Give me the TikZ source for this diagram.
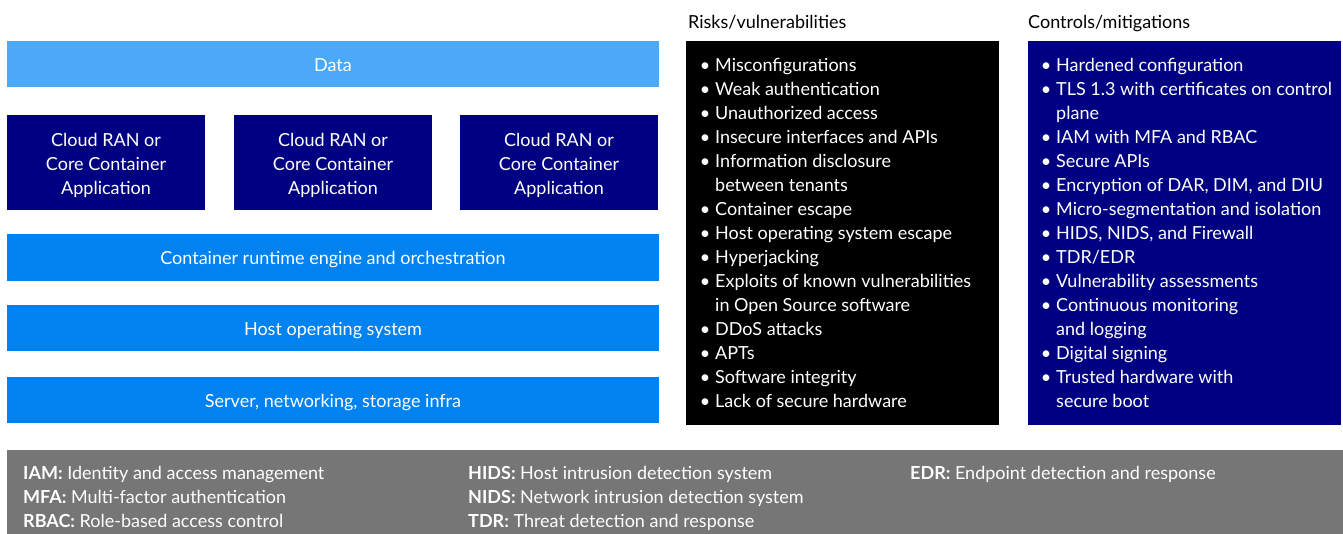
\documentclass[tikz,border=0pt]{standalone}
\usepackage{fontspec}
\setmainfont{Lato}
\definecolor{lightblue}{HTML}{4BA9F8}
\definecolor{eblue}{HTML}{0082F0}
\definecolor{navy}{HTML}{000082}
\definecolor{footgrey}{HTML}{767676}
\newcommand\fs{\fontsize{18}{24}\selectfont}
\newcommand\bu{\llap{•\hspace{5pt}}}
\begin{document}
\begin{tikzpicture}[x=1pt,y=-1pt,
  bar/.style={fill=#1, draw=none, text=white, font=\fs, inner sep=0pt, align=center, text height=15pt, text depth=0pt},
  panel/.style={fill=#1, draw=none, inner sep=0pt},
  item/.style={anchor=base west, inner sep=0pt, text=white, font=\fs},
  title/.style={anchor=base west, inner sep=0pt, text=black, font=\fs},
  foot/.style={anchor=base west, inner sep=0pt, text=white, font=\fs}]
\useasboundingbox (0,0) rectangle (1343,534);

% left stack
\node[bar=lightblue, minimum width=652pt, minimum height=46pt] (data) at (333,64) {Data};
\node[panel=navy, minimum width=198pt, minimum height=95pt] (app1) at (106,162.5) {};
\node[panel=navy, minimum width=198pt, minimum height=95pt] (app2) at (333,162.5) {};
\node[panel=navy, minimum width=198pt, minimum height=95pt] (app3) at (559,162.5) {};
\node[bar=eblue, minimum width=652pt, minimum height=47pt] (runtime) at (333,257.5) {Container runtime engine and orchestration};
\node[bar=eblue, minimum width=652pt, minimum height=46pt] (hostos) at (333,328) {Host operating system};
\node[bar=eblue, minimum width=652pt, minimum height=46pt] (server) at (333,400) {Server, networking, storage infra};

% app texts
\foreach \x/\n in {106/a, 333/b, 559/c}{
  \node[item, anchor=base] (\n1) at (\x,146.5) {Cloud RAN or};
  \node[item, anchor=base] (\n2) at (\x,170.5) {Core Container};
  \node[item, anchor=base] (\n3) at (\x,194.5) {Application};
}

% titles
\node[title] (rtitle) at (688,29) {Risks/vulnerabilities};
\node[title] (ctitle) at (1028,29) {Controls/mitigations};

% panels
\node[panel=black, minimum width=313pt, minimum height=384pt] (risks) at (842.5,233) {};
\node[panel=navy, minimum width=313pt, minimum height=384pt] (controls) at (1184.5,233) {};

\foreach \t [count=\i from 0] in {{\bu Misconfigurations},{\bu Weak authentication},{\bu Unauthorized access},{\bu Insecure interfaces and APIs},{\bu Information disclosure},{between tenants},{\bu Container escape},{\bu Host operating system escape},{\bu Hyperjacking},{\bu Exploits of known vulnerabilities},{in Open Source software},{\bu DDoS attacks},{\bu APTs},{\bu Software integrity},{\bu Lack of secure hardware}}
  \node[item] (r\i) at (715,{71.5+24*\i}) {\t};

\foreach \t [count=\i from 0] in {{\bu Hardened configuration},{\bu TLS 1.3 with certificates on control},{plane},{\bu IAM with MFA and RBAC},{\bu Secure APIs},{\bu Encryption of DAR, DIM, and DIU},{\bu Micro-segmentation and isolation},{\bu HIDS, NIDS, and Firewall},{\bu TDR/EDR},{\bu Vulnerability assessments},{\bu Continuous monitoring},{and logging},{\bu Digital signing},{\bu Trusted hardware with},{secure boot}}
  \node[item] (c\i) at (1056,{71.5+24*\i}) {\t};

% footer
\node[panel=footgrey, minimum width=1336pt, minimum height=84pt] (footer) at (675,492) {};
\node[foot] (f1) at (23,479.5) {\textbf{IAM:} Identity and access management};
\node[foot] (f2) at (23,503.5) {\textbf{MFA:} Multi-factor authentication};
\node[foot] (f3) at (23,527.5) {\textbf{RBAC:} Role-based access control};
\node[foot] (f4) at (468,479.5) {\textbf{HIDS:} Host intrusion detection system};
\node[foot] (f5) at (468,503.5) {\textbf{NIDS:} Network intrusion detection system};
\node[foot] (f6) at (468,527.5) {\textbf{TDR:} Threat detection and response};
\node[foot] (f7) at (910,479.5) {\textbf{EDR:} Endpoint detection and response};
\end{tikzpicture}
\end{document}
